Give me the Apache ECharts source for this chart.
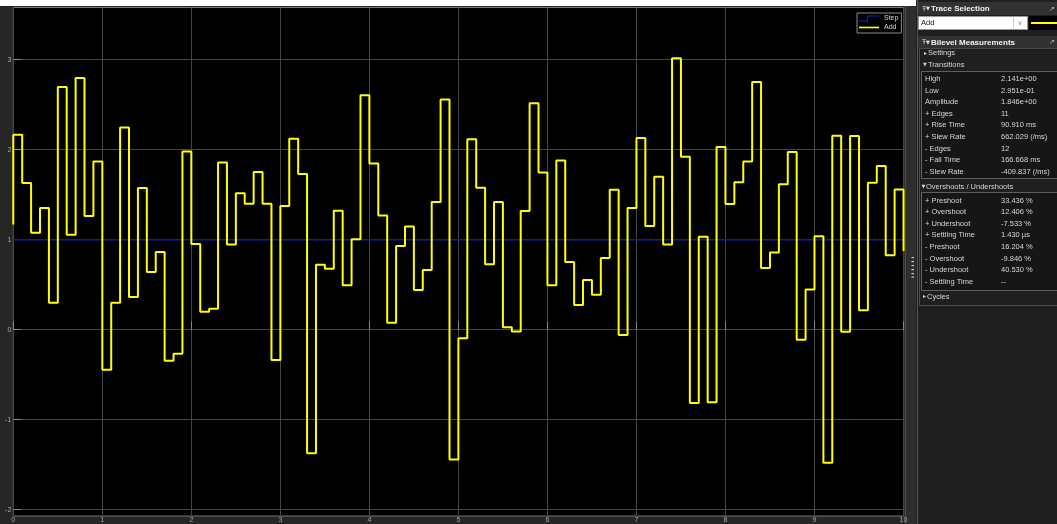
<!DOCTYPE html>
<html>
<head>
<meta charset="utf-8">
<script src="https://cdn.jsdelivr.net/npm/echarts@6/dist/echarts.min.js"></script>
<style>
  html, body { margin: 0; padding: 0; background: #262626; }
  #chart { width: 1057px; height: 524px; }
</style>
</head>
<body>
<div id="chart"></div>
<script>
// Scope traces: sample instants (s) and held values of the "Add" signal
const addTimes = [
  0, 0, 0.1, 0.2, 0.3, 0.4, 0.5, 0.6, 0.7, 0.8, 0.9,
  1.0, 1.1, 1.2, 1.3, 1.4, 1.5, 1.6, 1.7, 1.8, 1.9,
  2.0, 2.1, 2.2, 2.3, 2.4, 2.5, 2.6, 2.7, 2.8, 2.9,
  3.0, 3.1, 3.2, 3.3, 3.4, 3.5, 3.6, 3.7, 3.8, 3.9,
  4.0, 4.1, 4.2, 4.3, 4.4, 4.5, 4.6, 4.7, 4.8, 4.9,
  5.0, 5.1, 5.2, 5.3, 5.4, 5.5, 5.6, 5.7, 5.8, 5.9,
  6.0, 6.1, 6.2, 6.3, 6.4, 6.5, 6.6, 6.7, 6.8, 6.9,
  7.0, 7.1, 7.2, 7.3, 7.4, 7.5, 7.6, 7.7, 7.8, 7.9,
  8.0, 8.1, 8.2, 8.3, 8.4, 8.5, 8.6, 8.7, 8.8, 8.9,
  9.0, 9.1, 9.2, 9.3, 9.4, 9.5, 9.6, 9.7, 9.8, 9.9,
  10.0
];
const addValues = [
  1.17, 2.167, 1.630, 1.078, 1.352, 0.300, 2.696, 1.056, 2.796, 1.263, 1.870,
  -0.444, 0.300, 2.248, 0.363, 1.574, 0.641, 0.863, -0.344, -0.267, 1.981,
  0.952, 0.200, 0.233, 1.859, 0.948, 1.515, 1.400, 1.752, 1.400, -0.337,
  1.374, 2.122, 1.730, -1.374, 0.722, 0.678, 1.322, 0.493, 1.004, 2.604,
  1.848, 1.270, 0.078, 0.930, 1.148, 0.441, 0.663, 1.419, 2.559, -1.441,
  -0.096, 2.115, 1.578, 0.726, 1.419, 0.026, -0.019, 1.319, 2.515, 1.748,
  0.493, 1.881, 0.752, 0.274, 0.552, 0.389, 0.796, 1.556, -0.059, 1.352,
  2.130, 1.152, 1.700, 0.948, 3.015, 1.922, -0.815, 1.033, -0.807, 2.030,
  1.396, 1.637, 1.870, 2.752, 0.685, 0.859, 1.615, 1.974, -0.111, 0.448,
  1.037, -1.478, 2.156, -0.022, 2.152, 0.215, 1.633, 1.819, 0.826, 1.559,
  0.874
];

// "Step" trace
const stepTimes = [0, 10];
const stepValues = [1, 1];

// Axis ticks
const xTicks = [0, 1, 2, 3, 4, 5, 6, 7, 8, 9, 10];
const yTicks = [-2, -1, 0, 1, 2, 3];
const yLimits = [-2.07, 3.58];

// Measurement panel texts
const transitionLabels = ['High', 'Low', 'Amplitude', '+ Edges', '+ Rise Time', '+ Slew Rate', '- Edges', '- Fall Time', '- Slew Rate'];
const transitionValues = ['2.141e+00', '2.951e-01', '1.846e+00', '11', '90.910 ms', '662.029 (/ms)', '12', '166.668 ms', '-409.837 (/ms)'];
const overshootLabels = ['+ Preshoot', '+ Overshoot', '+ Undershoot', '+ Settling Time', '- Preshoot', '- Overshoot', '- Undershoot', '- Settling Time'];
const overshootValues = ['33.436 %', '12.406 %', '-7.533 %', '1.430 \u00b5s', '16.204 %', '-9.846 %', '40.530 %', '--'];

const FONT = '"Liberation Sans", Arial, sans-serif';
const YELLOW = '#ffff00';
const BLUE = '#1428c8';

function pairs(xs, ys) {
  return xs.map((x, i) => [x, ys[i]]);
}

// Side panel drawn as graphic elements
const graphics = [];
function rect(x, y, w, h, fill, stroke) {
  graphics.push({
    type: 'rect', silent: true,
    shape: { x: x, y: y, width: w, height: h },
    style: { fill: fill || 'none', stroke: stroke || null, lineWidth: stroke ? 1 : 0 }
  });
}
function line(x1, y1, x2, y2, color, width) {
  graphics.push({
    type: 'line', silent: true,
    shape: { x1: x1, y1: y1, x2: x2, y2: y2 },
    style: { stroke: color, lineWidth: width || 1 }
  });
}
function text(str, x, y, opts) {
  opts = opts || {};
  graphics.push({
    type: 'text', silent: true, x: x, y: y,
    style: {
      text: str,
      fill: opts.color || '#d6d6d6',
      font: (opts.bold ? 'bold ' : '') + (opts.size || 7.5) + 'px ' + (opts.family || FONT),
      textAlign: opts.align || 'left',
      textVerticalAlign: 'middle'
    }
  });
}

// top strip above the axes
rect(0, 0, 916, 6, '#ffffff');
// splitter between axes and panel
rect(904, 6, 12, 518, '#2e2e2e');
line(905.5, 6, 905.5, 524, '#4c4c4c');
[257.5, 261.5, 265.5, 269.5, 273.5, 277].forEach(function (yy) {
  rect(911.5, yy - 0.5, 2.5, 1.2, '#c8c8c8');
});

// panel background
rect(916, 0, 141, 524, '#1f1f1f');
line(917.5, 0, 917.5, 524, '#555555');

// Trace Selection
rect(918, 2, 139, 13, '#323232');
text('\u0166', 922, 9, { size: 7, color: '#cfcfcf' });
text('\u25bc', 926, 9, { size: 5, color: '#e8e8e8', family: '"DejaVu Sans", sans-serif' });
text('Trace Selection', 931, 9, { bold: true, size: 8, color: '#f2f2f2' });
text('\u2197 \u00d7', 1049, 9, { size: 6.5, color: '#bdbdbd' });
rect(918.5, 16.5, 109, 13, '#ffffff', '#9a9a9a');
text('Add', 921, 23, { size: 7.5, color: '#111111' });
line(1013.5, 17.5, 1013.5, 28.5, '#d0d0d0');
text('\u2228', 1020, 23, { size: 7, color: '#8a8a8a', align: 'center', family: '"DejaVu Sans", sans-serif' });
rect(1029, 16, 28, 14, '#000000');
line(1031, 23, 1057, 23, YELLOW, 2);

// Bilevel Measurements
rect(918, 36, 139, 12, '#323232');
text('\u0166', 922, 42.3, { size: 7, color: '#cfcfcf' });
text('\u25bc', 926, 42.3, { size: 5, color: '#e8e8e8', family: '"DejaVu Sans", sans-serif' });
text('Bilevel Measurements', 931, 42.3, { bold: true, size: 8, color: '#f2f2f2' });
text('\u2197 \u00d7', 1049, 42.3, { size: 6.5, color: '#bdbdbd' });
rect(919.5, 48.5, 140, 257, null, '#4a4a4a');

text('\u25ba', 923, 53.3, { size: 5, color: '#d0d0d0' });
text('Settings', 928, 53.3, { size: 7.5 });
text('\u25bc', 923, 65, { size: 5, color: '#d0d0d0', family: '"DejaVu Sans", sans-serif' });
text('Transitions', 928, 65, { size: 7.5 });

rect(921.5, 71.5, 140, 107, '#161616', '#5f5f5f');
transitionLabels.forEach(function (lab, i) {
  const yy = 79 + i * 11.6;
  text(lab, 925, yy);
  text(transitionValues[i], 1001, yy);
});

text('\u25bc', 921.5, 186.7, { size: 5, color: '#d0d0d0', family: '"DejaVu Sans", sans-serif' });
text('Overshoots / Undershoots', 926, 186.7, { size: 7.5 });

rect(921.5, 192.5, 140, 98, '#161616', '#5f5f5f');
overshootLabels.forEach(function (lab, i) {
  const yy = 200.5 + i * 11.6;
  text(lab, 925, yy);
  text(overshootValues[i], 1001, yy);
});

text('\u25ba', 922, 297, { size: 5, color: '#d0d0d0' });
text('Cycles', 927, 297, { size: 7.5 });

const chart = echarts.init(document.getElementById('chart'), null, { renderer: 'canvas' });

chart.setOption({
  backgroundColor: '#262626',
  animation: false,
  grid: {
    left: 13.3, right: 153.5, top: 7.5, bottom: 7,
    show: true, backgroundColor: '#000000',
    borderColor: '#767676', borderWidth: 1
  },
  legend: {
    orient: 'vertical',
    left: 857, top: 13,
    padding: [2, 3, 2, 2],
    itemGap: 2,
    itemWidth: 20, itemHeight: 6,
    backgroundColor: '#000000',
    borderColor: '#8a8a8a', borderWidth: 1,
    textStyle: { color: '#d8d8d8', fontSize: 7, fontFamily: FONT, lineHeight: 7 },
    data: [
      { name: 'Step', icon: 'path://M0,5 L8,5 L8,0 L20,0 L20,1 L9,1 L9,6 L0,6 Z' },
      { name: 'Add', icon: 'path://M0,0 L24,0 L24,2 L0,2 Z' }
    ]
  },
  xAxis: {
    type: 'value', min: xTicks[0], max: xTicks[xTicks.length - 1], interval: 1,
    axisLine: { show: false },
    axisTick: { show: true, inside: true, length: 8, lineStyle: { color: '#8a8a8a' } },
    axisLabel: { color: '#a8a8a8', fontSize: 7, fontFamily: FONT, margin: 1 },
    splitLine: { show: true, lineStyle: { color: '#454545', width: 1 } }
  },
  yAxis: {
    type: 'value', min: yLimits[0], max: yLimits[1],
    axisLine: { show: false },
    axisTick: { show: true, inside: true, length: 8, lineStyle: { color: '#8a8a8a' }, customValues: yTicks },
    axisLabel: { color: '#a8a8a8', fontSize: 7, fontFamily: FONT, margin: 2, customValues: yTicks },
    splitLine: { show: true, lineStyle: { color: '#454545', width: 1 } }
  },
  series: [
    {
      name: 'Step', type: 'line', step: 'end',
      data: pairs(stepTimes, stepValues),
      symbol: 'none', color: BLUE,
      lineStyle: { color: '#0c1ca8', width: 1.6 },
      z: 2
    },
    {
      name: 'Add', type: 'line', step: 'end',
      data: pairs(addTimes, addValues),
      symbol: 'none', color: YELLOW,
      lineStyle: { color: YELLOW, width: 2 },
      z: 3
    }
  ],
  graphic: graphics
});
</script>
</body>
</html>
